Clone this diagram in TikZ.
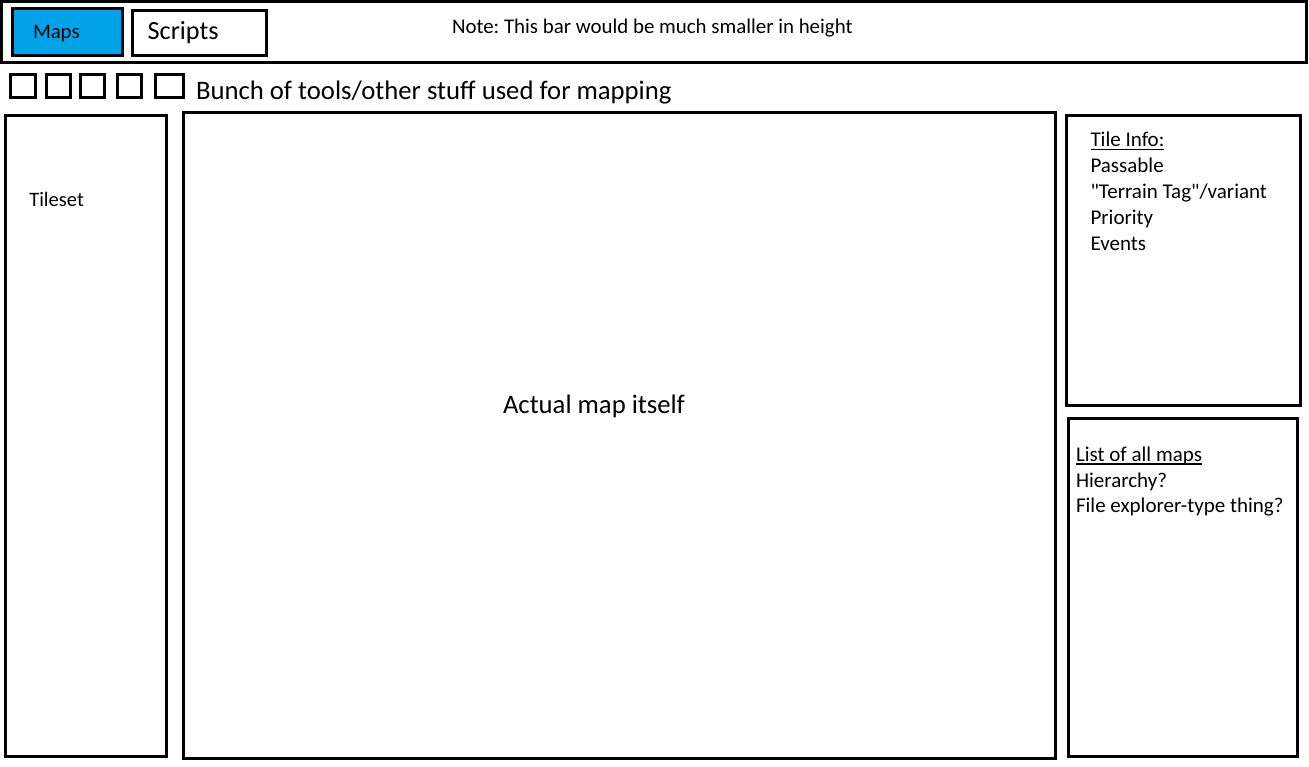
\documentclass[tikz,border=0pt]{standalone}
\usepackage{fontspec}
\setmainfont{Carlito}[Ligatures=TeXOff]
\frenchspacing
\newcommand{\myul}[1]{\setbox0\hbox{#1}\rlap{\rule[-3.6pt]{\wd0}{1.3pt}}\box0}
\tikzset{
  box/.style={draw=black, line width=3pt, rectangle, inner sep=0pt, outer sep=0pt, anchor=north west},
  lbl/.style={inner sep=0pt, outer sep=0pt, anchor=base west},
  small/.style={font=\fontsize{21}{26}\selectfont},
  big/.style={font=\fontsize{26.7}{32}\selectfont},
}
\definecolor{tabblue}{HTML}{00A2E8}
\begin{document}
\begin{tikzpicture}[x=1pt,y=-1pt]
\useasboundingbox[fill=white] (0,0) rectangle (1309,766);
% top bar
\node[box, minimum width=1305pt, minimum height=61pt] (bar) at (1.5,1.5) {};
\node[box, fill=tabblue, minimum width=110pt, minimum height=47pt] (mapsTab) at (12.5,8.5) {};
\node[box, minimum width=134pt, minimum height=45pt] (scriptsTab) at (132.5,10.5) {};
\node[lbl, font=\fontsize{20.8}{26}\selectfont] (mapsT) at (33,38.3) {Maps};
\node[lbl, font=\fontsize{26.2}{32}\selectfont] (scriptsT) at (147.7,39.3) {Scripts};
\node[lbl, font=\fontsize{20.9}{26}\selectfont] (note) at (452,33) {Note: This bar would be much smaller in height};
% tools
\node[box, minimum width=24.5pt, minimum height=23pt] (t1) at (10.5,74.5) {};
\node[box, minimum width=24pt, minimum height=23pt] (t2) at (46,74.5) {};
\node[box, minimum width=24.5pt, minimum height=23pt] (t3) at (80,74.5) {};
\node[box, minimum width=23.5pt, minimum height=23pt] (t4) at (117.5,74.5) {};
\node[box, minimum width=28.5pt, minimum height=23pt] (t5) at (155,74.5) {};
\node[lbl, big] (tools) at (196,99.5) {Bunch of tools/other stuff used for mapping};
% panels
\node[box, minimum width=161pt, minimum height=641pt] (tileset) at (5.5,115.5) {};
\node[lbl, font=\fontsize{20.5}{26}\selectfont] (tilesetT) at (29.3,206) {Tileset};
\node[box, minimum width=872pt, minimum height=646pt] (map) at (183.5,112.5) {};
\node[lbl, big] (mapT) at (503,413.3) {Actual map itself};
\node[box, minimum width=233.5pt, minimum height=290pt] (info) at (1066.5,115) {};
\node[lbl, small] (i1) at (1090.5,146.7) {\myul{Tile Info:}};
\node[lbl, small] (i2) at (1090.5,172.7) {Passable};
\node[lbl, small] (i3) at (1090.5,198.7) {"Terrain Tag"/variant};
\node[lbl, small] (i4) at (1090.5,224.3) {Priority};
\node[lbl, small] (i5) at (1090.5,250) {Events};
\node[box, minimum width=229pt, minimum height=338pt] (list) at (1068.5,418.5) {};
\node[lbl, small] (l1) at (1076,461) {\myul{List of all maps}};
\node[lbl, small] (l2) at (1076,487.3) {Hierarchy?};
\node[lbl, small] (l3) at (1076,512.7) {File explorer-type thing?};
\end{tikzpicture}
\end{document}
